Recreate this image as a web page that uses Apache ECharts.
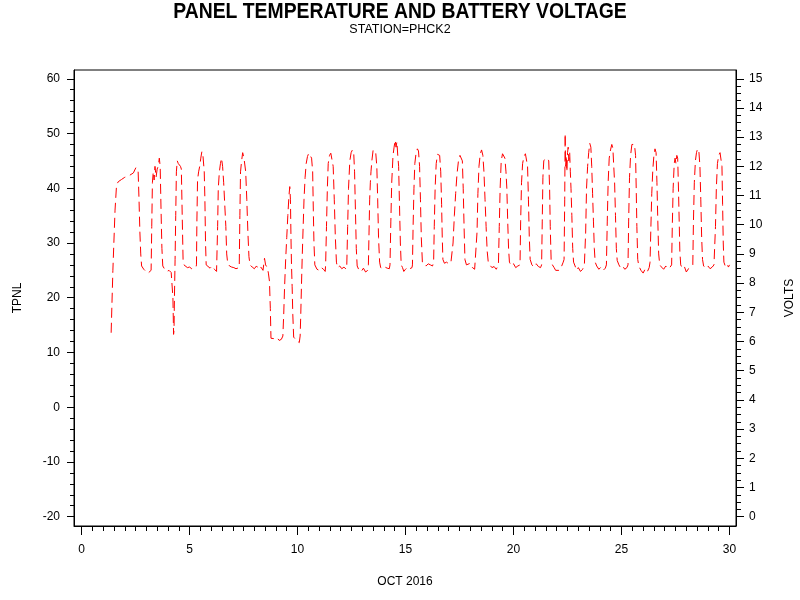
<!DOCTYPE html>
<html>
<head>
<meta charset="utf-8">
<script src="https://cdn.jsdelivr.net/npm/echarts@6/dist/echarts.min.js"></script>
<style>
  html, body { margin: 0; padding: 0; background: #fff; }
  #chart { width: 800px; height: 600px; }
</style>
</head>
<body>
<div id="chart"></div>
<script>
// day of month (OCT 2016) and panel temperature
const days = [
  1.37, 1.45, 1.55, 1.62, 1.7, 1.85, 2.0, 2.2, 2.4, 2.52, 2.58, 2.62, 2.66, 2.7, 2.74, 2.78, 2.88, 2.98, 3.08, 3.17,
  3.22, 3.25, 3.28, 3.32, 3.36, 3.4, 3.45, 3.5, 3.55, 3.6, 3.64, 3.68, 3.72, 3.76, 3.85, 3.95, 4.05, 4.15, 4.2,
  4.23, 4.26, 4.28, 4.3, 4.33, 4.36, 4.39, 4.43, 4.48, 4.53, 4.58, 4.62, 4.66, 4.7, 4.74, 4.8, 4.9, 5.0, 5.1, 5.2, 5.3,
  5.32, 5.34, 5.37, 5.42, 5.47, 5.52, 5.57, 5.62, 5.68, 5.71, 5.74, 5.77, 5.85, 5.95, 6.05, 6.15, 6.25,
  6.27, 6.3, 6.33, 6.38, 6.43, 6.48, 6.53, 6.58, 6.63, 6.68, 6.72, 6.76, 6.85, 6.95, 7.05, 7.15, 7.22,
  7.3, 7.33, 7.36, 7.41, 7.46, 7.52, 7.6, 7.65, 7.7, 7.75, 7.8, 7.9, 8.0, 8.1, 8.2, 8.3, 8.4, 8.47, 8.52, 8.6,
  8.65, 8.7, 8.74, 8.77, 8.85, 8.95, 9.05, 9.15, 9.25, 9.32,
  9.36, 9.4, 9.45, 9.5, 9.55, 9.6, 9.64, 9.67, 9.7, 9.72, 9.75, 9.78, 9.82, 9.88, 9.95, 10.02, 10.08,
  10.12, 10.15, 10.18, 10.22, 10.26, 10.3, 10.35, 10.4, 10.46, 10.52, 10.58, 10.65, 10.7, 10.73, 10.76, 10.8, 10.9, 11.0, 11.1, 11.2, 11.28,
  11.3, 11.34, 11.38, 11.42, 11.48, 11.54, 11.6, 11.65, 11.7, 11.75, 11.8, 11.85, 11.95, 12.05, 12.15, 12.25,
  12.28, 12.32, 12.36, 12.42, 12.48, 12.54, 12.6, 12.64, 12.68, 12.72, 12.76, 12.85, 12.95, 13.05, 13.15, 13.25,
  13.28, 13.31, 13.34, 13.37, 13.4, 13.44, 13.5, 13.56, 13.62, 13.67, 13.71, 13.75, 13.8, 13.85, 13.95, 14.05, 14.15, 14.25,
  14.28, 14.32, 14.36, 14.42, 14.47, 14.52, 14.56, 14.6, 14.64, 14.68, 14.72, 14.76, 14.8, 14.86, 14.92, 15.0, 15.1, 15.2, 15.3,
  15.32, 15.35, 15.39, 15.43, 15.49, 15.55, 15.6, 15.65, 15.69, 15.73, 15.78, 15.85, 15.95, 16.05, 16.15, 16.25,
  16.3, 16.33, 16.37, 16.42, 16.48, 16.53, 16.58, 16.63, 16.67, 16.7, 16.73, 16.8, 16.9, 17.0, 17.1,
  17.15, 17.2, 17.26, 17.32, 17.38, 17.45, 17.52, 17.58, 17.63, 17.67, 17.71, 17.75, 17.82, 17.9, 18.0, 18.1, 18.2,
  18.27, 18.31, 18.35, 18.4, 18.46, 18.52, 18.58, 18.63, 18.68, 18.73, 18.78, 18.83, 18.9, 19.0, 19.1, 19.2, 19.25,
  19.3, 19.34, 19.38, 19.43, 19.49, 19.55, 19.6, 19.65, 19.69, 19.73, 19.77, 19.81, 19.9, 20.0, 20.1, 20.2, 20.27,
  20.3, 20.33, 20.37, 20.42, 20.48, 20.55, 20.6, 20.65, 20.69, 20.73, 20.77, 20.85, 20.95, 21.05, 21.15, 21.25,
  21.3, 21.33, 21.36, 21.4, 21.46, 21.52, 21.58, 21.63, 21.67, 21.7, 21.74, 21.8, 21.88, 21.95, 22.02, 22.1, 22.2, 22.3,
  22.34, 22.37, 22.39, 22.41, 22.44, 22.47, 22.5, 22.53, 22.56, 22.6, 22.63, 22.66, 22.7, 22.74, 22.78, 22.85, 22.92, 23.0, 23.1, 23.2, 23.28,
  23.3, 23.34, 23.38, 23.43, 23.48, 23.53, 23.58, 23.62, 23.66, 23.7, 23.74, 23.78, 23.85, 23.95, 24.05, 24.15, 24.25,
  24.3, 24.34, 24.38, 24.43, 24.49, 24.55, 24.6, 24.64, 24.68, 24.72, 24.76, 24.8, 24.88, 24.95, 25.05, 25.15, 25.25,
  25.3, 25.33, 25.37, 25.42, 25.48, 25.54, 25.6, 25.65, 25.68, 25.71, 25.75, 25.8, 25.9, 26.0, 26.1, 26.2, 26.28,
  26.32, 26.36, 26.4, 26.45, 26.5, 26.55, 26.6, 26.64, 26.68, 26.72, 26.77, 26.85, 26.95, 27.05, 27.15, 27.25,
  27.32, 27.35, 27.39, 27.44, 27.48, 27.52, 27.56, 27.6, 27.63, 27.67, 27.7, 27.74, 27.8, 27.9, 28.0, 28.1, 28.2, 28.26,
  28.3, 28.33, 28.37, 28.42, 28.47, 28.52, 28.58, 28.63, 28.67, 28.71, 28.75, 28.8, 28.9, 29.0, 29.1, 29.2, 29.28,
  29.32, 29.35, 29.39, 29.44, 29.5, 29.56, 29.61, 29.65, 29.68, 29.71, 29.74, 29.8, 29.88, 29.95, 30.0
];
const tpnl = [
  13.6, 25, 36, 40.6, 41.2, 41.6, 42, 42.3, 42.8, 43.8, 44, 43, 38, 32, 28, 25.8, 25.2, 24.8, 24.5, 24.2,
  25, 33, 41, 43, 41.5, 44, 42, 43.5, 44, 45.5, 44, 36, 29, 25.8, 25.2, 24.8, 25, 24.6, 24.3,
  20, 13.3, 14, 20, 27, 35, 43, 45, 44.5, 44.8, 44, 43.5, 35, 27, 26, 25.8, 25.5, 25.6, 25.3, 25.5, 25.6,
  26, 34, 41.5, 43, 44, 45.5, 46.7, 46, 43, 38, 30, 26, 25.7, 25.4, 25.8, 25.2, 24.8,
  25, 33, 40, 43, 44.5, 45.5, 44, 41, 37, 33, 28, 26.5, 25.8, 25.6, 25.5, 25.3, 25.2,
  25.5, 35, 43, 45, 46.5, 45.5, 43, 38, 32, 27.5, 26, 25.6, 25.3, 25.8, 25.2, 25.6, 25, 27.2, 26, 25.5,
  24.5, 23, 18, 12.6, 12.8, 12.5, 12.7, 12.2, 12.4, 13,
  17, 22, 27, 31, 35, 38.5, 40.3, 38, 30, 26, 22, 17, 12.8, 12.5, 12.2, 12, 11.8,
  13, 17, 22, 28, 33, 38, 42, 44.5, 45.8, 46.4, 46, 45.5, 43, 36, 30, 26, 25.2, 25, 25.5, 25.2, 24.8,
  26, 33, 40, 44.5, 46, 46.4, 46.2, 44, 38, 31, 26.5, 25.5, 25.8, 25.3, 25.6, 25.2,
  26, 33, 40, 45, 46.5, 47, 46.5, 43, 36, 29, 25.8, 25, 24.8, 25.4, 24.7, 25,
  26, 32, 38, 41, 43, 45, 47, 47, 46.5, 44, 38, 31, 26.5, 25.5, 25.3, 25.6, 25.4, 25.3,
  26, 34, 41, 46, 47.5, 48.8, 47.5, 48.5, 46, 44, 37, 30, 26, 25.5, 24.8, 25.2, 25.6, 25.3, 25.5,
  26, 33, 40, 44.5, 46.5, 47.2, 46.8, 44, 38, 31, 26.5, 26, 25.8, 26.2, 26, 25.8,
  26.5, 33, 40, 44.5, 46.2, 46.5, 46, 43, 37, 31, 27, 26.3, 26.5, 26.2, 26.4,
  26.5, 30, 35, 39, 42.5, 45, 46, 46.3, 45, 40, 33, 27, 26, 25.8, 26.3, 25.5, 25.2,
  25.5, 32, 39, 44, 46.3, 47, 46, 43, 38, 33, 28.5, 26.5, 26, 25.5, 25.7, 25.2, 25.5,
  26, 33, 40, 45, 46.3, 46.3, 45.5, 43, 40, 34, 29, 26.5, 25.8, 26.2, 25.5, 25.8, 25.5,
  26, 34, 41, 44.5, 45.8, 46.3, 46, 44, 38, 31, 27, 26, 25.6, 26.2, 25.7, 25.5,
  26, 34, 42, 45, 45.4, 45.2, 45.4, 45, 40, 33, 27, 26, 25.5, 25, 24.8, 25, 25.5, 26.5,
  27, 38, 50, 44, 46, 43, 46.5, 47.5, 45, 46.5, 43, 40, 35, 29, 26.5, 25.8, 25, 25.5, 24.8, 25.2, 26,
  26, 32, 40, 44, 46.5, 48.2, 47.5, 44, 39, 34, 29, 26.5, 25.8, 25.2, 25.6, 25, 25.4,
  26, 34, 41, 45.5, 47, 48, 47.3, 44, 41, 35, 29, 26.8, 26, 25.5, 25.8, 25.2, 25.5,
  26, 34, 42, 46, 48, 48.2, 48, 46, 40, 33, 27, 25.8, 25, 24.5, 25.3, 24.8, 25.5,
  26.5, 33, 39, 43.5, 46, 47.2, 46.5, 41, 34, 28, 26, 25.6, 25.2, 25.8, 25.3, 25.6,
  26, 33, 40, 44.5, 45.5, 44.5, 46, 45.5, 41, 34, 28.5, 26, 25.5, 25.8, 24.7, 25.3, 25.6, 25.4,
  26, 34, 41, 45, 46.5, 47.2, 46.8, 44, 38, 31, 27, 25.8, 25.4, 25.8, 25.3, 25.6, 26,
  26, 33, 40, 44.5, 46, 46.5, 46.7, 44, 37, 30, 26.5, 25.8, 26.2, 25.6, 26
];

const xTicks = [0, 5, 10, 15, 20, 25, 30];
const tpnlTicks = [-20, -10, 0, 10, 20, 30, 40, 50, 60];
const voltTicks = [0, 1, 2, 3, 4, 5, 6, 7, 8, 9, 10, 11, 12, 13, 14, 15];

// minor tick positions between the labelled ones
function minors(from, to, step, major) {
  const out = [];
  for (let v = from; v <= to + 1e-9; v += step) {
    const r = Math.round(v * 100) / 100;
    if (Math.abs(r / major - Math.round(r / major)) > 1e-6) out.push(r);
  }
  return out;
}

const font = "'Liberation Sans', Arial, sans-serif";
const black = { color: '#000', width: 1 };
const lbl = { color: '#000', fontSize: 12, fontFamily: font };

const X_MIN = -0.35, X_MAX = 30.3;
const T_MIN = -21.7, T_MAX = 61.6;
const V_MIN = -0.32, V_MAX = 15.3;

const chart = echarts.init(document.getElementById('chart'));

chart.setOption({
  animation: false,
  backgroundColor: '#fff',
  graphic: [
    {
      type: 'text', x: 400, y: 12, scaleX: 0.88,
      style: { text: 'PANEL TEMPERATURE AND BATTERY VOLTAGE', x: 0, y: 0,
        align: 'center', verticalAlign: 'middle', textAlign: 'center', textVerticalAlign: 'middle',
        fontSize: 22, fontWeight: 'bold', fontFamily: font, fill: '#000' }
    },
    {
      type: 'text', x: 400, y: 30,
      style: { text: 'STATION=PHCK2', x: 0, y: 0,
        align: 'center', verticalAlign: 'middle', textAlign: 'center', textVerticalAlign: 'middle',
        fontSize: 12.5, fontFamily: font, fill: '#000' }
    }
  ],
  grid: {
    left: 74, right: 64, top: 70, bottom: 74,
    outerBoundsMode: 'none',
    show: true, borderColor: '#000', borderWidth: 1
  },
  xAxis: [
    {
      type: 'value', min: X_MIN, max: X_MAX, position: 'bottom',
      axisLine: { show: true, onZero: false, lineStyle: black },
      axisTick: { show: true, length: 9, customValues: xTicks, lineStyle: black },
      axisLabel: { customValues: xTicks, margin: 18, ...lbl },
      splitLine: { show: false },
      name: 'OCT 2016', nameLocation: 'middle', nameGap: 50,
      nameTextStyle: { ...lbl }
    },
    {
      type: 'value', min: X_MIN, max: X_MAX, position: 'bottom',
      axisLine: { show: false, onZero: false },
      axisTick: { show: true, length: 5, customValues: minors(0, 30, 0.5, 5), lineStyle: black },
      axisLabel: { show: false },
      splitLine: { show: false }
    }
  ],
  yAxis: [
    {
      type: 'value', min: T_MIN, max: T_MAX, position: 'left',
      axisLine: { show: true, onZero: false, lineStyle: black },
      axisTick: { show: true, length: 7, customValues: tpnlTicks, lineStyle: black },
      axisLabel: { customValues: tpnlTicks, margin: 14, ...lbl },
      splitLine: { show: false },
      name: 'TPNL', nameLocation: 'middle', nameRotate: 90, nameGap: 50,
      nameTextStyle: { ...lbl }
    },
    {
      type: 'value', min: T_MIN, max: T_MAX, position: 'left',
      axisLine: { show: false, onZero: false },
      axisTick: { show: true, length: 4, customValues: minors(-20, 60, 2, 10), lineStyle: black },
      axisLabel: { show: false },
      splitLine: { show: false }
    },
    {
      type: 'value', min: V_MIN, max: V_MAX, position: 'right',
      axisLine: { show: true, onZero: false, lineStyle: black },
      axisTick: { show: true, length: 8, customValues: voltTicks, lineStyle: black },
      axisLabel: { customValues: voltTicks, margin: 13, ...lbl },
      splitLine: { show: false },
      name: 'VOLTS', nameLocation: 'middle', nameRotate: 90, nameGap: 48,
      nameTextStyle: { ...lbl }
    },
    {
      type: 'value', min: V_MIN, max: V_MAX, position: 'right',
      axisLine: { show: false, onZero: false },
      axisTick: { show: true, length: 5, customValues: minors(0, 15, 0.25, 1), lineStyle: black },
      axisLabel: { show: false },
      splitLine: { show: false }
    }
  ],
  series: [
    {
      name: 'TPNL', type: 'line', xAxisIndex: 0, yAxisIndex: 0,
      data: days.map((d, i) => [d, tpnl[i]]),
      showSymbol: false, symbol: 'none', silent: true,
      lineStyle: { color: '#ff0000', width: 1, type: [10, 5] }
    }
  ]
});
</script>
</body>
</html>
